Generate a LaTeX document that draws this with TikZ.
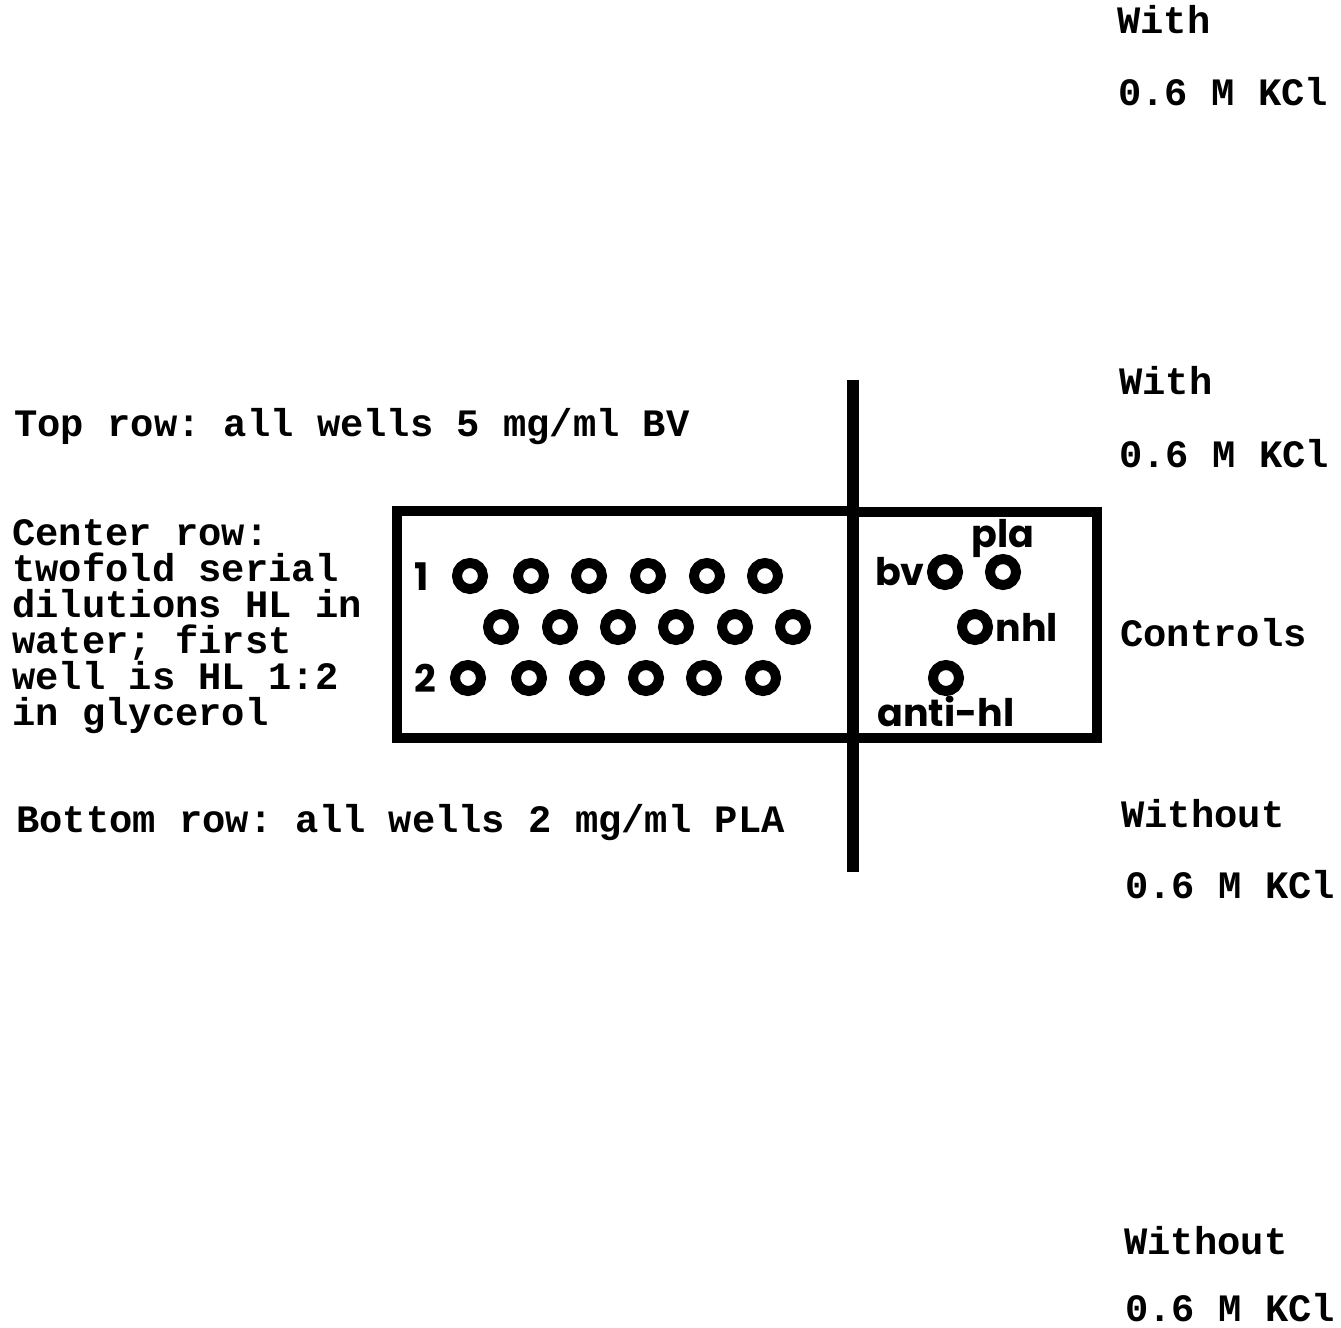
\documentclass[tikz,border=0pt]{standalone}
\usepackage{fontspec}
\setmonofont{Liberation Mono}
\newfontfamily\wellfont{Poppins}
\usetikzlibrary{positioning}

\begin{document}
\begin{tikzpicture}[x=0.5pt,y=-0.5pt,
    note/.style={font=\ttfamily\bfseries\fontsize{19.4}{18}\selectfont,anchor=mid west,
      inner sep=0pt,align=left},
    well/.style={circle,draw,line width=5pt,minimum size=13pt,inner sep=0pt},
    welltag/.style={font=\wellfont\bfseries\fontsize{19}{19}\selectfont,inner sep=0pt},
    frame/.style={line width=5pt},
    divider/.style={line width=6pt}
  ]
    \useasboundingbox (0,0) rectangle (1341,1328);
    \node[note] (toprow) at (14,432) {Top row: all wells 5 mg/ml BV};
    \node[note,anchor=west] (centerrow) at (12,627) {Center row:\\twofold serial\\dilutions HL in\\water; first\\well is HL 1:2\\in glycerol};
    \node[note] (bottomrow) at (16,828) {Bottom row: all wells 2 mg/ml PLA};
    \node[note] (with1) at (1117,29) {With};
    \node[note] (kcl1) at (1118,101) {0.6 M KCl};
    \node[note] (with2) at (1119,390) {With};
    \node[note] (kcl2) at (1119,463) {0.6 M KCl};
    \node[note] (controls) at (1120,642) {Controls};
    \node[note] (without1) at (1121,823) {Without};
    \node[note] (kcl3) at (1125,894) {0.6 M KCl};
    \node[note] (without2) at (1124,1250) {Without};
    \node[note] (kcl4) at (1125,1317) {0.6 M KCl};
    \draw[frame] (397,511) rectangle (853,738);
    \draw[frame] (853,512) rectangle (1097,738);
    \draw[divider] (853,380) -- (853,872);
    \foreach \x [count=\i] in {470,531,589,648,707,765}
      \node[well] (top\i) at (\x,576) {};
    \foreach \x [count=\i] in {501,560,618,676,735,793}
      \node[well] (mid\i) at (\x,627) {};
    \foreach \x [count=\i] in {468,529,587,646,704,763}
      \node[well] (bot\i) at (\x,678) {};
    \node[welltag] (one) at (422,577) {1};
    \node[welltag] (two) at (425,678) {2};
    \node[well] (bv) at (945,572) {};
    \node[well] (pla) at (1003,572) {};
    \node[well] (nhl) at (975,627) {};
    \node[well] (antihl) at (946,678) {};
    \node[welltag,left=1pt of bv] {bv};
    \node[welltag,above=-2pt of pla] {pla};
    \node[welltag,right=1pt of nhl] {nhl};
    \node[welltag,below=0pt of antihl] {anti-hl};
  \end{tikzpicture}
\end{document}
